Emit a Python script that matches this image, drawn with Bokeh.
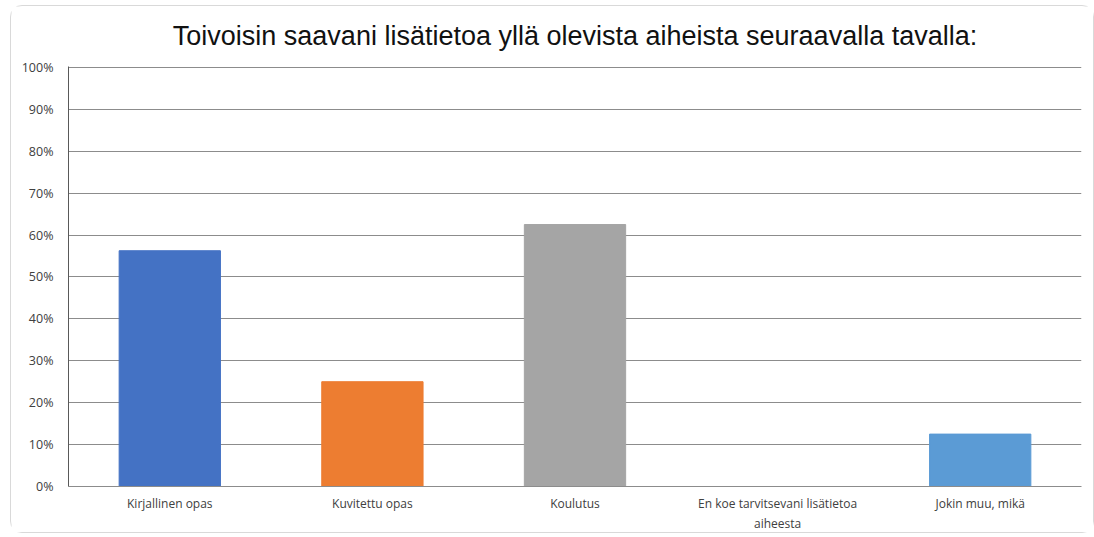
from bokeh.plotting import figure
from bokeh.models import ColumnDataSource, NumeralTickFormatter, FixedTicker
from bokeh.embed import file_html
from bokeh.resources import INLINE

categories = ["Kirjallinen opas", "Kuvitettu opas", "Koulutus",
              "En koe tarvitsevani lisätietoa\naiheesta", "Jokin muu, mikä"]
values = [0.5625, 0.25, 0.625, 0.0, 0.125]
colors = ["#4472C4", "#ED7D31", "#A5A5A5", "#FFC000", "#5B9BD5"]
y_ticks = [0.0, 0.1, 0.2, 0.3, 0.4, 0.5, 0.6, 0.7, 0.8, 0.9, 1.0]

source = ColumnDataSource(dict(cat=categories, val=values, color=colors))

p = figure(x_range=categories, y_range=(0, 1.002), width=1084, height=528,
           output_backend="svg", toolbar_location=None,
           title="Toivoisin saavani lisätietoa yllä olevista aiheista seuraavalla tavalla:")
p.margin = (5, 0, 0, 10)
p.styles = {"border": "1px solid #d9d9d9", "border-radius": "12px", "box-sizing": "border-box"}

p.vbar(x="cat", top="val", width=0.5, color="color", source=source)

p.title.text_font = "Liberation Sans"
p.title.text_font_size = "27px"
p.title.text_font_style = "normal"
p.title.text_color = "#111111"
p.title.align = "center"
p.title.vertical_align = "top"
p.title.standoff = 27

p.min_border_left = 57
p.min_border_right = 14
p.min_border_top = 60
p.min_border_bottom = 40

p.yaxis.ticker = FixedTicker(ticks=y_ticks)
p.yaxis.formatter = NumeralTickFormatter(format="0%")
p.yaxis.major_tick_line_color = None
p.yaxis.minor_tick_line_color = None
p.yaxis.axis_line_color = "#595959"
p.yaxis.major_label_text_font = "Open Sans"
p.yaxis.major_label_text_font_size = "12.5px"
p.yaxis.major_label_text_color = "#404040"
p.yaxis.major_label_standoff = 9

p.xaxis.major_tick_line_color = None
p.xaxis.axis_line_color = "#8c8c8c"
p.xaxis.major_label_text_font = "Open Sans"
p.xaxis.major_label_text_font_size = "12px"
p.xaxis.major_label_text_color = "#404040"
p.xaxis.major_label_standoff = 2

p.xgrid.grid_line_color = None
p.ygrid.grid_line_color = "#8c8c8c"
p.ygrid.ticker = FixedTicker(ticks=y_ticks)
p.outline_line_color = None
p.background_fill_color = "white"
p.border_fill_color = "white"

open("out.html", "w").write(file_html(p, INLINE))
